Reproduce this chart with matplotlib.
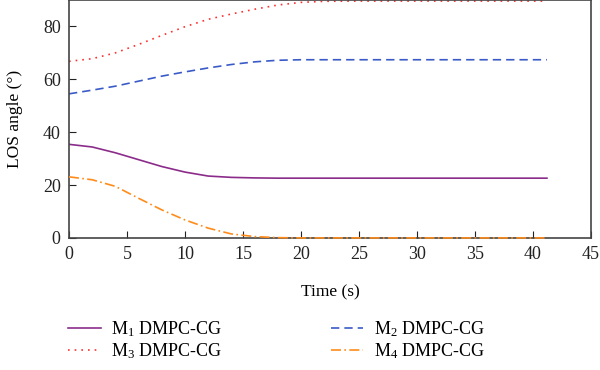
import matplotlib
matplotlib.use('Agg')
import matplotlib.pyplot as plt

plt.rcParams['font.family'] = ['Liberation Serif', 'DejaVu Serif']
plt.rcParams['mathtext.fontset'] = 'custom'
plt.rcParams['mathtext.rm'] = 'Liberation Serif'
plt.rcParams['mathtext.it'] = 'Liberation Serif'

time = [0, 2, 4, 6, 8, 10, 12, 14, 16, 18, 20, 22, 25, 30, 35, 41.2]
m1 = [35.4, 34.4, 32.2, 29.6, 27.0, 24.9, 23.4, 22.9, 22.7, 22.6, 22.6, 22.6, 22.6, 22.6, 22.6, 22.6]
m2 = [54.5, 55.9, 57.4, 59.3, 61.2, 62.8, 64.3, 65.6, 66.6, 67.2, 67.4, 67.4, 67.4, 67.4, 67.4, 67.4]
m3 = [66.8, 67.8, 70.0, 73.2, 76.6, 79.9, 82.7, 84.7, 86.5, 88.1, 89.1, 89.5, 89.6, 89.6, 89.6, 89.6]
m4 = [23.1, 22.0, 19.5, 15.0, 10.6, 6.8, 3.7, 1.5, 0.5, 0.1, 0.0, 0.0, 0.0, 0.0, 0.0, 0.0]

fig = plt.figure(figsize=(6, 3.7), dpi=100)
ax = fig.add_axes([0.115, 0.357, 0.87, 0.643])

l1, = ax.plot(time, m1, color='#8B2C8B', lw=1.2, ls='-', label='M$_1$ DMPC-CG')
l2, = ax.plot(time, m2, color='#3A5BC7', lw=1.2, ls=(0, (5, 3)), label='M$_2$ DMPC-CG')
l3, = ax.plot(time, m3, color='#FF3030', lw=1.2, ls=(0, (1, 3)), label='M$_3$ DMPC-CG',
              clip_on=False)
l4, = ax.plot(time, m4, color='#FF8C1A', lw=1.2, ls=(0, (6, 2, 1, 2)), label='M$_4$ DMPC-CG',
              clip_on=False, zorder=5)

ax.set_xlim(0, 45)
ax.set_ylim(0, 90)
ax.set_xticks(range(0, 46, 5))
ax.set_yticks([0, 20, 40, 60, 80])
ax.tick_params(direction='in', length=5, labelsize=13, colors='#222222', pad=6)
for s in ax.spines.values():
    s.set_color('#444444')
    s.set_linewidth(1.2)

ax.set_xlabel('Time (s)', fontsize=12.5, labelpad=15)
ax.set_ylabel('LOS angle (°)', fontsize=12.5, labelpad=14)

fig.legend([l1, l3, l2, l4], [l1.get_label(), l3.get_label(), l2.get_label(), l4.get_label()],
           ncol=2, loc='center', bbox_to_anchor=(0.461, 0.080), frameon=False,
           fontsize=13, handlelength=1.8, handletextpad=0.6, columnspacing=6.0,
           labelspacing=0.1)

fig.savefig('out.png', dpi=100)
